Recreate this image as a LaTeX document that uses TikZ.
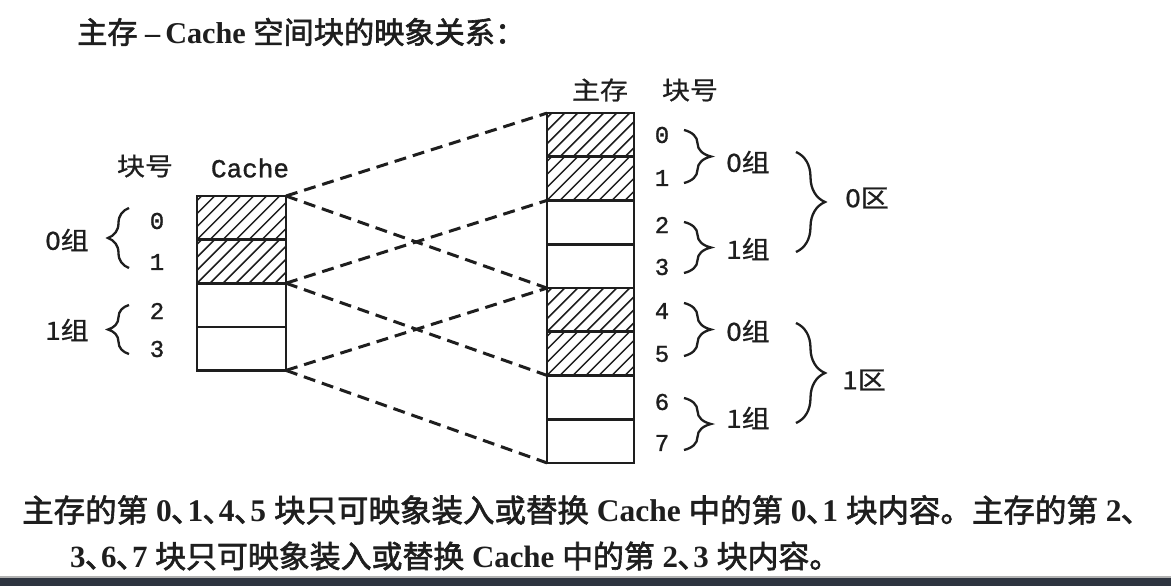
\documentclass[tikz,border=0pt]{standalone}
\usepackage{fontspec}
\setmainfont{Liberation Serif}
\newfontfamily\cjk{Noto Sans CJK SC}[FakeStretch=1.12, FakeBold=0.8]
\newfontfamily\cjkb{Noto Sans CJK SC}[FakeBold=2]
\newfontfamily\mono{Liberation Mono}[FakeBold=1.2]
\usetikzlibrary{decorations.pathreplacing,calc}
\newcommand\zh[1]{{\mdseries\cjkb #1}}
\newcommand\dun{{\mdseries\cjkb ､}}
\definecolor{ink}{HTML}{1E1E1E}
\definecolor{barcol}{HTML}{2E3440}
\begin{document}
\begin{tikzpicture}[x=1pt,y=-1pt,
  cell/.style={draw=ink, line width=2.6pt, minimum height=43.6pt, inner sep=0pt, outer sep=0pt},
  ccell/.style={cell, minimum width=89pt},
  mcell/.style={cell, minimum width=87pt},
  hatched/.style={path picture={
      \foreach \k in {-6,...,10}
        \draw[ink, line width=1.5pt]
          ($(path picture bounding box.south west)+(\k*13pt,0pt)$) -- ++(60pt,60pt);}},
  dline/.style={ink, line width=3pt, dash pattern=on 12pt off 7pt},
  num/.style={inner sep=0pt, font=\mono\fontsize{24}{24}\selectfont, text=ink},
  lab/.style={inner sep=0pt, font=\cjk\fontsize{25}{25}\selectfont, text=ink},
  bracedraw/.style={ink, line width=2.3pt, decorate},
]
\useasboundingbox (0,0) rectangle (1171,586);
\fill[white] (0,0) rectangle (1171,586);

% title
\node[anchor=west, inner sep=0pt, text=ink] (title) at (77,32)
  {\resizebox{448pt}{!}{\zh{主存} \textbf{–\,Cache} \zh{空间块的映象关系：}}};

% cache cells
\node[ccell, hatched] (c0) at (241.5,217.8) {};
\node[ccell, hatched] (c1) at (241.5,261.4) {};
\node[ccell] (c2) at (241.5,305.0) {};
\node[ccell] (c3) at (241.5,348.6) {};

% main memory cells
\node[mcell, hatched] (m0) at (590.5,134.9) {};
\node[mcell, hatched] (m1) at (590.5,178.6) {};
\node[mcell] (m2) at (590.5,222.4) {};
\node[mcell] (m3) at (590.5,266.1) {};
\node[mcell, hatched] (m4) at (590.5,309.9) {};
\node[mcell, hatched] (m5) at (590.5,353.6) {};
\node[mcell] (m6) at (590.5,397.4) {};
\node[mcell] (m7) at (590.5,441.1) {};

% dashed mapping lines
\draw[dline] (c0.north east) -- (m0.north west);
\draw[dline] (c0.north east) -- (m4.north west);
\draw[dline] (c1.south east) -- (m1.south west);
\draw[dline] (c1.south east) -- (m5.south west);
\draw[dline] (c3.south east) -- (m4.north west);
\draw[dline] (c3.south east) -- (m7.south west);

% headers
\node[lab] (hkc) at (145,166) {块号};
\node[num, font=\mono\fontsize{26}{26}\selectfont] (hcache) at (250,168) {Cache};
\node[lab] (hmain) at (600,90) {主存};
\node[lab] (hkm) at (690,90) {块号};

% cache block numbers
\node[num] (cn0) at (157,221) {0};
\node[num] (cn1) at (157,262) {1};
\node[num] (cn2) at (157,311) {2};
\node[num] (cn3) at (157,349) {3};

% main block numbers
\node[num] (mn0) at (662,135) {0};
\node[num] (mn1) at (662,178) {1};
\node[num] (mn2) at (662,225) {2};
\node[num] (mn3) at (662,267) {3};
\node[num] (mn4) at (662,311) {4};
\node[num] (mn5) at (662,354) {5};
\node[num] (mn6) at (662,402) {6};
\node[num] (mn7) at (662,443) {7};

% cache group braces
\draw[bracedraw, decoration={brace, amplitude=21pt}] (129,268) -- (129,208);
\draw[bracedraw, decoration={brace, amplitude=21pt}] (129,354) -- (129,305);
\node[lab] (cg0) at (67,240) {0组};
\node[lab] (cg1) at (67,330) {1组};

% main group braces
\draw[bracedraw, decoration={brace, amplitude=27pt}] (684,130) -- (684,183);
\draw[bracedraw, decoration={brace, amplitude=27pt}] (684,222) -- (684,273);
\draw[bracedraw, decoration={brace, amplitude=27pt}] (684,303) -- (684,356);
\draw[bracedraw, decoration={brace, amplitude=27pt}] (684,398) -- (684,450);
\node[lab] (mg0) at (748,162) {0组};
\node[lab] (mg1) at (748,249) {1组};
\node[lab] (mg2) at (748,331) {0组};
\node[lab] (mg3) at (748,418) {1组};

% zone braces
\draw[bracedraw, decoration={brace, amplitude=29pt}] (796,152) -- (796,252);
\draw[bracedraw, decoration={brace, amplitude=29pt}] (796,323) -- (796,423);
\node[lab] (z0) at (867,198) {0区};
\node[lab] (z1) at (864,380) {1区};

% bottom text
\node[anchor=west, inner sep=0pt, text=ink] (t1) at (22,510)
  {\resizebox{1115pt}{!}{\bfseries\zh{主存的第} 0\dun1\dun4\dun5 \zh{块只可映象装入或替换} Cache \zh{中的第} 0\dun1 \zh{块内容。主存的第} 2\dun}};
\node[anchor=west, inner sep=0pt, text=ink] (t2) at (70,556)
  {\resizebox{770pt}{!}{\bfseries 3\dun6\dun7 \zh{块只可映象装入或替换} Cache \zh{中的第} 2\dun3 \zh{块内容。}}};

% bottom bar
\fill[gray!60] (0,576) rectangle (1171,578);
\fill[barcol] (0,578) rectangle (1171,586);
\end{tikzpicture}
\end{document}
